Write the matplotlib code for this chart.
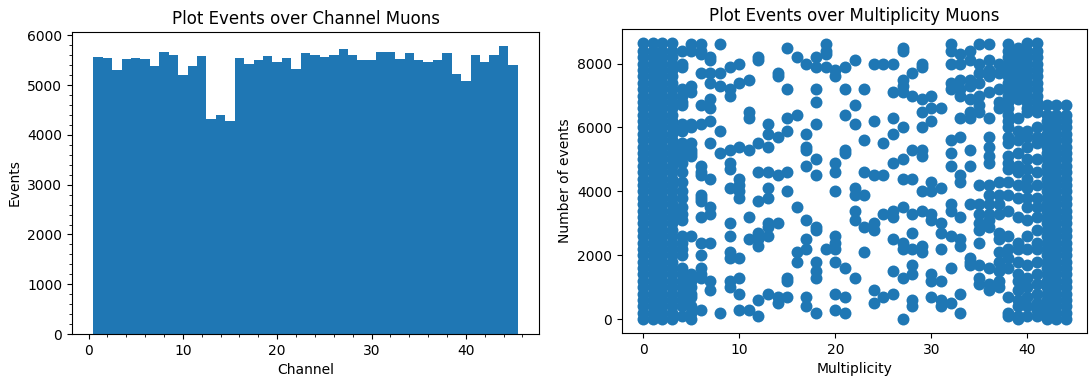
import numpy as np
from matplotlib import pyplot as plt

# events per channel (left histogram)
channels = np.arange(1, 46)
channel_events = [5560, 5545, 5311, 5518, 5545, 5518, 5391, 5665, 5612, 5197,
                  5391, 5585, 4321, 4408, 4281, 5552, 5418, 5498, 5585, 5472,
                  5552, 5331, 5639, 5605, 5558, 5612, 5719, 5612, 5498, 5498,
                  5665, 5665, 5525, 5639, 5498, 5472, 5498, 5639, 5231, 5084,
                  5612, 5472, 5612, 5779, 5411]

# multiplicity vs event number (right scatter)
full_cols = [0, 1, 2, 3]
full_col_y = [0, 200, 400, 600, 800, 1000, 1200, 1400, 1600, 1800, 2000, 2200,
              2400, 2600, 2800, 3000, 3200, 3400, 3600, 3800, 4000, 4200, 4400,
              4600, 4800, 5000, 5200, 5400, 5600, 5800, 6000, 6200, 6400, 6600,
              6800, 7000, 7200, 7400, 7600, 7800, 8000, 8200, 8400, 8650]
low_cols = [42, 43, 44]
low_col_y = [0, 200, 400, 600, 800, 1000, 1200, 1400, 1600, 1800, 2000, 2200,
             2400, 2600, 2800, 3000, 3200, 3400, 3600, 3800, 4000, 4200, 4400,
             4600, 4800, 5000, 5200, 5400, 5600, 5800, 6000, 6200, 6400, 6700]

mult_points = {
    4: [8400, 8000, 7900, 7200, 7000, 6800, 6700, 6100, 5900, 5500, 5300, 5100, 4900,
        4600, 4300, 4000, 3800, 3500, 3300, 3100, 2600, 2400, 2200, 2000, 1600, 1400,
        1200, 1000, 800, 600, 400, 100],
    5: [8600, 8400, 7300, 7100, 6100, 6000, 5500, 5300, 5200, 5100, 2600, 1400, 1200,
        1000, 800, 700, 400, 200, 0],
    6: [8600, 8400, 8300, 7700, 6700, 6100, 4800, 4600, 4500, 3900, 3800, 3700, 3200,
        2400, 2000, 1600, 1400, 1300, 300],
    7: [8200, 8100, 7700, 7400, 6900, 6600, 6200, 5500, 4400, 3500, 3300, 2400, 1200, 900],
    8: [8600, 7700, 7300, 5900, 5200, 200],
    9: [7900, 7200, 7000, 5300, 4900, 4700, 4100, 3000, 2600, 2100, 1900, 1200, 1000],
    10: [8000, 7400, 5400, 4400, 4200, 4000, 3800, 1900, 1300, 800, 300],
    11: [7500, 6500, 6300, 5300, 3200, 2500, 300],
    12: [8200, 8100, 5500, 4600, 3700, 2700, 2500, 2300, 600, 100],
    13: [6100, 5800, 5400, 4600, 4100, 3800, 3000, 2900, 2600, 800],
    14: [7700, 7600, 5700, 4500, 3000, 700, 500],
    15: [8500, 7200, 6300, 5900, 4600, 4000, 1300, 1200, 700],
    16: [8200, 6400, 3500, 2100, 1800],
    17: [8000, 5800, 5400, 5300, 4800, 3100, 2500, 2200, 700, 400],
    18: [8200, 7900, 7200, 6800, 6100, 5000, 4500, 2900, 2800, 1800, 1500, 1300, 200],
    19: [8600, 8400, 8300, 7900, 2200],
    20: [7800, 7600, 4900, 4600, 4000, 2600, 2400, 2200, 1800, 800, 300],
    21: [7900, 7200, 6400, 5300, 5200, 1600, 700, 200],
    22: [8100, 6700, 6100, 4100, 3900, 3400, 3100, 1300],
    23: [7200, 5600, 4600, 3900, 2900, 2100],
    24: [8000, 6200, 4500, 3000, 2800, 900, 500],
    25: [8000, 5500, 4500, 3300, 700],
    26: [8000, 7100, 6300, 5800, 4900, 3400, 3200, 2500, 1500, 800],
    27: [8500, 8400, 7500, 7300, 7100, 6000, 5000, 4400, 3500, 2400, 2200, 1300, 0],
    28: [7700, 7000, 5300, 4400, 3300, 2700, 2200, 1700, 1400, 600, 400],
    29: [8000, 7900, 6900, 6500, 6000, 5300, 5100, 4000, 3400, 2300, 2100],
    30: [7000, 6600, 6200, 4300, 4000, 3300, 3100, 1400, 1200, 700],
    31: [6600, 4100, 3000, 2700, 2200, 1200, 600, 400],
    32: [8600, 8400, 8000, 7400, 7200, 5600, 5200, 4800, 3600, 3400, 2600, 1600, 500],
    33: [8300, 8000, 7500, 7200, 7000, 6300, 5700, 4500, 4300, 3200, 2500, 2300, 800, 200],
    34: [8400, 8100, 7500, 7300, 6900, 6500, 6300, 5300, 4800, 3600, 1900, 1800, 1700],
    35: [8600, 8000, 7700, 7400, 7000, 6700, 6500, 4200, 3600, 3300, 3000, 2800, 2400,
         1700, 1300, 1100],
    36: [8600, 8100, 7800, 7600, 7100, 6300, 5700, 5400, 5100, 4900, 4200, 3900, 3600,
         3300, 3100, 2900, 1600, 1100, 900],
    37: [8000, 7700, 7200, 6800, 6600, 4300, 3900, 3600, 3300, 2700, 2500, 2100, 1800,
         1500, 1200, 1000],
    38: [8600, 8400, 8200, 8000, 7800, 7600, 7400, 7200, 7000, 6800, 6600, 6400, 6200,
         6000, 5700, 5500, 5100, 4900, 4700, 4300, 3900, 3400, 2600, 2200, 1900, 1600,
         700, 200, 100],
    39: [8500, 8300, 8100, 7900, 7700, 7500, 7300, 7100, 6900, 6300, 5900, 5600, 5200,
         4800, 4600, 4200, 3800, 3200, 2400, 2200, 1800, 1400, 1200, 900, 600, 400,
         100, 0],
    40: [8650, 8400, 8200, 8000, 7800, 7600, 7400, 7200, 7000, 6800, 6600, 6500, 5900,
         5700, 5400, 5000, 4700, 4400, 4100, 3800, 3500, 3100, 2600, 2200, 1700, 1300,
         1000, 700, 400, 100],
    41: [8650, 8400, 8200, 8000, 7800, 7600, 7400, 7200, 7000, 6800, 6600, 6500, 6000,
         5700, 5500, 5000, 4600, 4200, 3800, 3500, 3200, 2800, 2400, 2200, 1800, 1400,
         1100, 800, 500, 300, 100],
}

mult_x = []
mult_y = []
for m in full_cols:
    mult_x += [m] * len(full_col_y)
    mult_y += full_col_y
for m, ys in mult_points.items():
    mult_x += [m] * len(ys)
    mult_y += ys
for m in low_cols:
    mult_x += [m] * len(low_col_y)
    mult_y += low_col_y

W, H = 1092, 378
fig = plt.figure(figsize=(W / 100, H / 100), dpi=100)

# left: channel histogram
ax1 = fig.add_axes([72 / W, 1 - 334 / H, (539 - 72) / W, (334 - 32) / H])
edges = np.append(channels - 0.5, channels[-1] + 0.5)
ax1.hist(channels, bins=edges, weights=channel_events, color="#1f77b4")
ax1.set_title("Plot Events over Channel Muons")
ax1.set_xlabel("Channel")
ax1.set_ylabel("Events")
ax1.minorticks_on()

# right: multiplicity scatter
ax2 = fig.add_axes([622 / W, 1 - 333 / H, (1087 - 622) / W, (333 - 29) / H])
ax2.scatter(mult_x, mult_y, s=74, linewidths=0, color="#1f77b4")
ax2.set_title("Plot Events over Multiplicity Muons")
ax2.set_xlabel("Multiplicity")
ax2.set_ylabel("Number of events")

fig.savefig("out.png", dpi=100)
